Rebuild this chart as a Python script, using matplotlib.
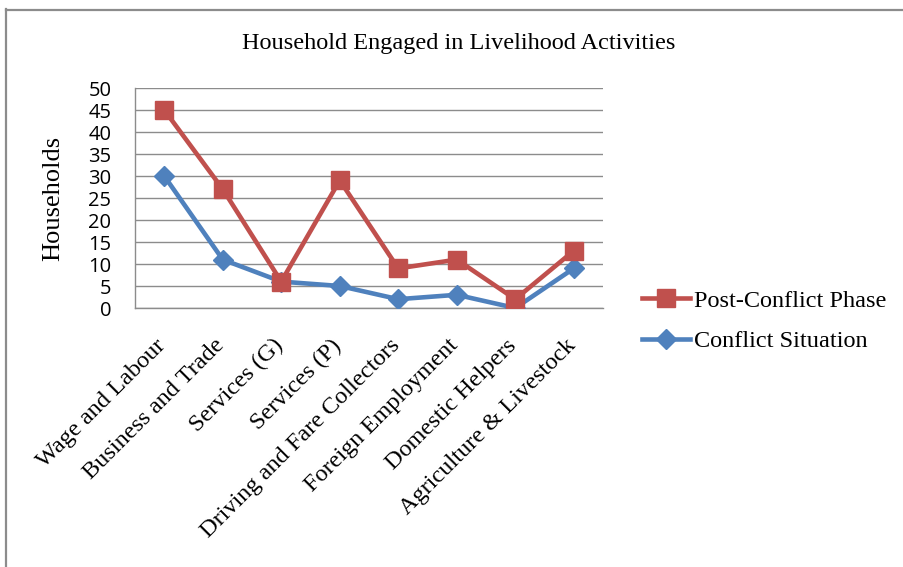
import matplotlib
matplotlib.use("Agg")
import matplotlib.pyplot as plt
from matplotlib.lines import Line2D
from matplotlib.transforms import ScaledTranslation

categories = ["Wage and Labour", "Business and Trade", "Services (G)", "Services (P)",
              "Driving and Fare Collectors", "Foreign Employment", "Domestic Helpers",
              "Agriculture & Livestock"]
post_conflict = [45, 27, 6, 29, 9, 11, 2, 13]
conflict = [30, 11, 6, 5, 2, 3, 0, 9]
yticks = [0, 5, 10, 15, 20, 25, 30, 35, 40, 45, 50]

W, H = 904, 567
fig = plt.figure(figsize=(W / 100, H / 100), dpi=100)
serif = ["Liberation Serif", "DejaVu Serif"]
sans = ["Open Sans", "DejaVu Sans"]

# outer frame (top and left borders)
fig.add_artist(Line2D([6.5 / W, 6.5 / W], [0, 1 - 9 / H], color="#8c8c8c", lw=1.6,
                      transform=fig.transFigure))
fig.add_artist(Line2D([6.5 / W, 1], [1 - 9.5 / H, 1 - 9.5 / H], color="#8c8c8c", lw=1.6,
                      transform=fig.transFigure))

left, right, top, bottom = 135, 603, 88, 308
ax = fig.add_axes([left / W, 1 - bottom / H, (right - left) / W, (bottom - top) / H])

x = range(len(categories))
ax.plot(x, conflict, color="#4F81BD", lw=3.3, marker="D", markersize=10.5,
        label="Conflict Situation", zorder=3)
ax.plot(x, post_conflict, color="#C0504D", lw=3.3, marker="s", markersize=13.5,
        label="Post-Conflict Phase", zorder=4)

ax.set_xlim(-0.5, len(categories) - 0.5)
ax.set_ylim(0, 50)
ax.set_yticks(yticks)
ax.set_yticklabels([str(v) for v in yticks], fontfamily=sans, fontsize=14.5)
ax.set_xticks(list(x))
ax.set_xticklabels(categories, rotation=45, ha="right", rotation_mode="anchor",
                   fontfamily=serif, fontsize=17.5)
ax.tick_params(axis="y", length=0, pad=17)
ax.tick_params(axis="x", length=0, pad=0)
off = ScaledTranslation(-9 / 100, -27 / 100, fig.dpi_scale_trans)
for lab in ax.get_xticklabels():
    lab.set_transform(lab.get_transform() + off)
ax.grid(axis="y", color="#8c8c8c", lw=1)
ax.set_axisbelow(True)
for s in ["top", "right"]:
    ax.spines[s].set_visible(False)
for s in ["left", "bottom"]:
    ax.spines[s].set_color("#8c8c8c")
    ax.spines[s].set_linewidth(1)

ax.set_ylabel("Households", fontfamily=serif, fontsize=19)
ax.yaxis.set_label_coords(-(135 - 64) / (right - left), 0.5)

fig.text(459 / W, 1 - 44 / H, "Household Engaged in Livelihood Activities",
         ha="center", va="center", fontfamily=serif, fontsize=17.5)

handles, labels = ax.get_legend_handles_labels()
leg = fig.legend(handles[::-1], labels[::-1], loc="center left",
                 bbox_to_anchor=(620 / W, 1 - 321 / H), frameon=False,
                 prop={"family": serif, "size": 17.5}, handlelength=2.0,
                 handletextpad=0.15, labelspacing=0.75)

fig.savefig("out.png", dpi=100)
